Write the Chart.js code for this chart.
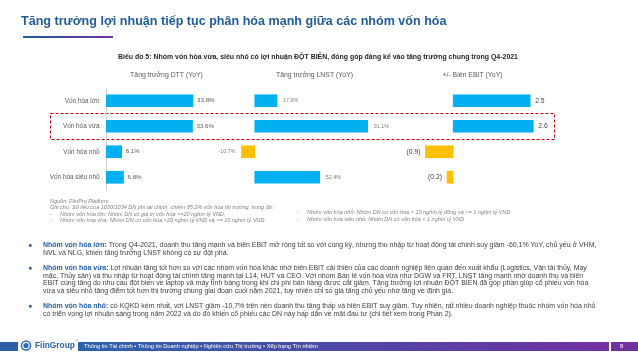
<!DOCTYPE html>
<html>
<head>
<meta charset="utf-8">
<script src="https://cdn.jsdelivr.net/npm/chart.js@4.4.0/dist/chart.umd.min.js"></script>
<style>
  html, body { margin: 0; padding: 0; background: #fff; }
  #page { position: relative; width: 638px; height: 359px; overflow: hidden; }
  #page canvas { position: absolute; }
  .panel { position: absolute; top: 88px; height: 102px; }
</style>
</head>
<body>
<div id="page">
  <canvas id="bg" width="638" height="359" style="left:0;top:0"></canvas>
  <div class="panel" style="left:0;width:230px"><canvas id="dtt" width="230" height="102"></canvas></div>
  <div class="panel" style="left:200px;width:200px"><canvas id="lnst" width="200" height="102"></canvas></div>
  <div class="panel" style="left:380px;width:190px"><canvas id="ebit" width="190" height="102"></canvas></div>
</div>
<script>
/////////////////////
//      Data       //
/////////////////////
const CATEGORIES = ['Vốn hóa lớn', 'Vốn hóa vừa', 'Vốn hóa nhỏ', 'Vốn hóa siêu nhỏ'];
const DTT_GROWTH = [33.8, 33.6, 6.1, 6.8];          // Tăng trưởng DTT (YoY), %
const LNST_GROWTH = [17.9, 91.1, -10.7, 52.4];      // Tăng trưởng LNST (YoY), %
const EBIT_CHANGE = [2.5, 2.6, -0.9, -0.2];         // +/- Biên EBIT (YoY), điểm %
const PANEL_TITLES = ['Tăng trưởng DTT (YoY)', 'Tăng trưởng LNST (YoY)', '+/- Biên EBIT (YoY)'];

const FONT = '"Liberation Sans", Arial, sans-serif';
const BLUE = '#00b0f0';
const YELLOW = '#ffc000';

/////////////////////
//   Slide text    //
/////////////////////
const bg = document.getElementById('bg').getContext('2d');
bg.textBaseline = 'middle';

function fitSize(ctx, str, weight, targetWidth, style = '') {
  ctx.font = `${style} ${weight} 10px ${FONT}`;
  return 10 * targetWidth / ctx.measureText(str).width;
}

function drawText(ctx, str, x, y, size, color, weight = 'normal', align = 'left', style = '') {
  ctx.font = `${style} ${weight} ${size}px ${FONT}`;
  ctx.fillStyle = color;
  ctx.textAlign = align;
  ctx.fillText(str, x, y);
  return ctx.measureText(str).width;
}

// Page title + underline
const titleSize = fitSize(bg, 'Tăng trưởng lợi nhuận tiếp tục p', 'bold', 196);
drawText(bg, 'Tăng trưởng lợi nhuận tiếp tục phân hóa mạnh giữa các nhóm vốn hóa', 21, 22, titleSize, '#1f5c99', 'bold');
let grad = bg.createLinearGradient(23, 0, 113, 0);
grad.addColorStop(0, '#1f5c99');
grad.addColorStop(1, '#7030a0');
bg.fillStyle = grad;
bg.fillRect(23, 36, 90, 2);

// Chart title
const chartTitle = 'Biểu đồ 5: Nhóm vốn hóa vừa, siêu nhỏ có lợi nhuận ĐỘT BIẾN, đóng góp đáng kể vào tăng trưởng chung trong Q4-2021';
drawText(bg, chartTitle, 118, 57, fitSize(bg, chartTitle, 'bold', 401), '#262626', 'bold');

// Panel headers
const headerSize = fitSize(bg, PANEL_TITLES[0], 'normal', 73);
[166.5, 314.5, 472.5].forEach((cx, i) => {
  drawText(bg, PANEL_TITLES[i], cx, 75, headerSize, '#595959', 'normal', 'center');
});

// Highlight box around "Vốn hóa vừa"
bg.save();
bg.strokeStyle = '#c00000';
bg.lineWidth = 1;
bg.setLineDash([3, 2]);
bg.strokeRect(50.5, 113.5, 504, 26);
bg.restore();

// Notes
const noteSize = 5.5;
const noteColor = '#808080';
drawText(bg, 'Nguồn: FiinPro Platform', 50, 201, noteSize, noteColor, 'normal', 'left', 'italic');
drawText(bg, 'Ghi chú: Số liệu của 1030/1034 DN phi tài chính, chiếm 95.2% vốn hóa thị trường, trong đó:', 50, 207.5, noteSize, noteColor, 'normal', 'left', 'italic');
const notesLeft = [
  'Nhóm vốn hóa lớn: Nhóm DN có giá trị vốn hóa >=20 nghìn tỷ VND;',
  'Nhóm vốn hóa vừa: Nhóm DN có vốn hóa <20 nghìn tỷ VND và >= 10 nghìn tỷ VND'
];
const notesRight = [
  'Nhóm vốn hóa nhỏ: Nhóm DN có vốn hóa < 10 nghìn tỷ đồng và >= 1 nghìn tỷ VND',
  'Nhóm vốn hóa siêu nhỏ: Nhóm DN có vốn hóa < 1 nghìn tỷ VND'
];
notesLeft.forEach((s, i) => {
  drawText(bg, '-', 50, 214 + i * 6.5, noteSize, noteColor, 'normal', 'left', 'italic');
  drawText(bg, s, 60, 214 + i * 6.5, noteSize, noteColor, 'normal', 'left', 'italic');
});
notesRight.forEach((s, i) => {
  drawText(bg, '-', 297, 212.7 + i * 6.6, noteSize, noteColor, 'normal', 'left', 'italic');
  drawText(bg, s, 307, 212.7 + i * 6.6, noteSize, noteColor, 'normal', 'left', 'italic');
});

// Bullets
const bullets = [
  { y: 245.5, lead: 'Nhóm vốn hóa lớn:', lines: [
    ' Trong Q4-2021, doanh thu tăng mạnh và biên EBIT mở rộng tốt so với cùng kỳ, nhưng thu nhập từ hoạt động tài chính suy giảm -60,1% YoY, chủ yếu ở VHM,',
    'NVL và NLG, khiến tăng trưởng LNST không có sự đột phá.'] },
  { y: 268.3, lead: 'Nhóm vốn hóa vừa:', lines: [
    ' Lợi nhuận tăng tốt hơn so với các nhóm vốn hóa khác nhờ biên EBIT cải thiện của các doanh nghiệp liên quan đến xuất khẩu (Logistics, Vận tải thủy, May',
    'mặc, Thủy sản) và thu nhập từ hoạt động tài chính tăng mạnh tại L14, HUT và CEO. Với nhóm Bán lẻ vốn hóa vừa như DGW và FRT, LNST tăng mạnh nhờ doanh thu và biên',
    'EBIT cùng tăng do nhu cầu đột biến về laptop và máy tính bảng trong khi chi phí bán hàng được cắt giảm. Tăng trưởng lợi nhuận ĐỘT BIẾN đã góp phần giúp cổ phiếu vốn hóa',
    'vừa và siêu nhỏ tăng điểm tốt hơn thị trường chung giai đoạn cuối năm 2021, tuy nhiên chỉ số giá tăng chủ yếu nhờ tăng về định giá.'] },
  { y: 306.3, lead: 'Nhóm vốn hóa nhỏ:', lines: [
    ' có KQKD kém nhất, với LNST giảm -10,7% trên nền doanh thu tăng thấp và biên EBIT suy giảm. Tuy nhiên, rất nhiều doanh nghiệp thuộc nhóm vốn hóa nhỏ',
    'có triển vọng lợi nhuận sáng trong năm 2022 và do đó khiến cổ phiếu các DN này hấp dẫn về mặt đầu tư (chi tiết xem trong Phần 2).'] }
];
// font size: "Nhóm vốn hóa lớn: Trong Q4-2021, ... tốt so v" spans x 43 -> 320
bg.font = `bold 10px ${FONT}`;
const leadW = bg.measureText('Nhóm vốn hóa lớn:').width;
bg.font = `normal 10px ${FONT}`;
const restW = bg.measureText(' Trong Q4-2021, doanh thu tăng mạnh và biên EBIT mở rộng tốt so v').width;
const bulletSize = 10 * 277 / (leadW + restW);
const lineGap = 7.6;
for (const b of bullets) {
  bg.fillStyle = '#2f5fa6';
  bg.fillRect(29, b.y - 1.3, 2.6, 2.6);
  const w = drawText(bg, b.lead, 43, b.y, bulletSize, '#1f5fa5', 'bold');
  b.lines.forEach((line, i) => {
    const x = i === 0 ? 43 + w : 43;
    drawText(bg, line, x, b.y + i * lineGap, bulletSize, '#404040');
  });
}

// Footer
bg.fillStyle = '#2f5fa6';
bg.fillRect(0, 342, 18, 9);
bg.beginPath();
bg.arc(26, 345.5, 5.3, 0, Math.PI * 2);
bg.fillStyle = '#2a6db8';
bg.fill();
bg.beginPath();
bg.arc(26, 345.5, 3.2, 0, Math.PI * 2);
bg.strokeStyle = '#fff';
bg.lineWidth = 1.2;
bg.stroke();
drawText(bg, 'FiinGroup', 35, 346, fitSize(bg, 'FiinGroup', 'bold', 40), '#2a62aa', 'bold');
drawText(bg, '®', 76, 341.5, 3, '#2a62aa');
grad = bg.createLinearGradient(78, 0, 609, 0);
grad.addColorStop(0, '#2d62ab');
grad.addColorStop(1, '#7030a0');
bg.fillStyle = grad;
bg.fillRect(78, 342, 531, 9);
const footerText = 'Thông tin Tài chính • Thông tin Doanh nghiệp • Nghiên cứu Thị trường • Xếp hạng Tín nhiệm';
drawText(bg, footerText, 84, 346.5, fitSize(bg, footerText, 'normal', 234), '#ffffff');
bg.fillStyle = '#7030a0';
bg.fillRect(611, 342, 27, 9);
drawText(bg, '8', 620, 346.5, 6, '#ffffff');

/////////////////////
//     Charts      //
/////////////////////
function valueLabels(format, gap, size, color) {
  return {
    id: 'valueLabels',
    afterDatasetsDraw(chart) {
      const ctx = chart.ctx;
      const values = chart.data.datasets[0].data;
      ctx.save();
      ctx.font = `${size}px ${FONT}`;
      ctx.fillStyle = color;
      ctx.textBaseline = 'middle';
      chart.getDatasetMeta(0).data.forEach((bar, i) => {
        const v = values[i];
        if (v >= 0) {
          ctx.textAlign = 'left';
          ctx.fillText(format(v), bar.x + gap, bar.y);
        } else {
          ctx.textAlign = 'right';
          ctx.fillText(format(v), bar.x - gap, bar.y);
        }
      });
      ctx.restore();
    }
  };
}

function makeChart(id, values, min, max, padding, yAxis, labels) {
  return new Chart(document.getElementById(id), {
    type: 'bar',
    data: {
      labels: CATEGORIES,
      datasets: [{
        data: values,
        backgroundColor: values.map(v => (v >= 0 ? BLUE : YELLOW)),
        borderWidth: 0,
        barThickness: 12
      }]
    },
    options: {
      indexAxis: 'y',
      responsive: false,
      animation: false,
      layout: { padding },
      plugins: { legend: { display: false }, tooltip: { enabled: false } },
      scales: {
        x: { display: false, min, max },
        y: yAxis
      }
    },
    plugins: [labels]
  });
}

const pct = v => v.toFixed(1) + '%';
const pts = v => (v < 0 ? `(${Math.abs(v).toFixed(1)})` : v.toFixed(1));

makeChart('dtt', DTT_GROWTH, 0, 40, { left: 0, right: 21, top: 0, bottom: 0 }, {
  grid: { display: false, drawTicks: false },
  border: { display: true, color: '#d0d0d0', width: 1 },
  ticks: { color: '#595959', font: { family: FONT, size: 6.4 }, padding: 6.5 },
  afterFit: (scale) => {
    scale.width = 106;
    scale.paddingTop = 0;
    scale.paddingBottom = 0;
  }
}, valueLabels(pct, 4, 6.2, '#595959'));

makeChart('lnst', LNST_GROWTH, -20, 100.2, { left: 30, right: 21, top: 0, bottom: 0 },
  { display: false }, valueLabels(pct, 6, 5.4, '#7f7f7f'));

makeChart('ebit', EBIT_CHANGE, -1.5, 3.013, { left: 27, right: 24, top: 0, bottom: 0 },
  { display: false }, valueLabels(pts, 5, 6.8, '#404040'));
</script>
</body>
</html>
